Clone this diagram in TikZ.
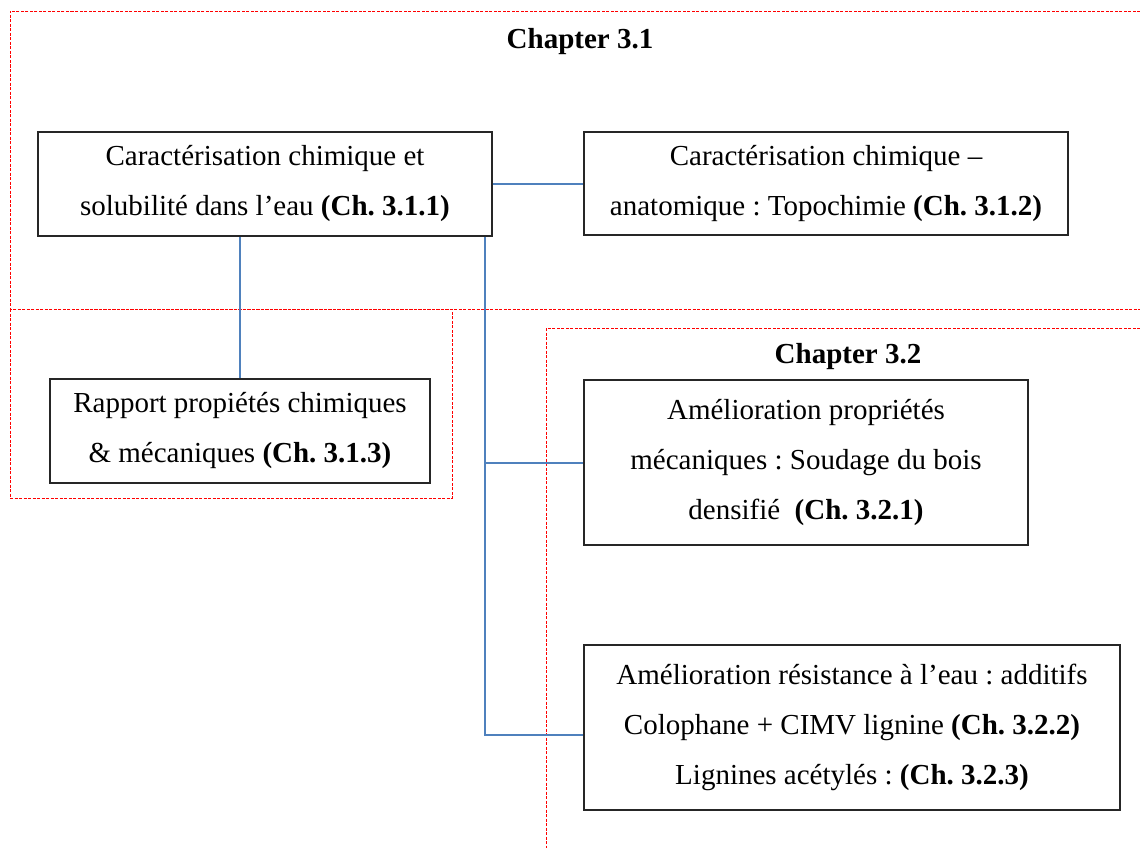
\documentclass[tikz,border=0pt]{standalone}
\usepackage{fontspec}
\setmainfont{Liberation Serif}
\usepackage{tikz}
\frenchspacing

\definecolor{linkblue}{HTML}{4F81BD}
\definecolor{framered}{HTML}{FF0000}

\tikzset{
	box/.style={draw=black!85, line width=1.2pt, align=center, inner sep=0pt, font=\fontsize{29}{50}\selectfont},
	link/.style={draw=linkblue, line width=2pt},
	chapframe/.style={draw=framered, line width=0.9pt, dash pattern=on 3pt off 1.5pt},
	chaptitle/.style={font=\fontsize{29}{34}\selectfont\bfseries, inner sep=0pt},
}

\begin{document}
\begin{tikzpicture}[x=1pt, y=-1pt]
	\useasboundingbox (0,0) rectangle (1140,848);
	\draw[chapframe] (1140,11) -- (10,11) -- (10,309) -- (1140,309);
	\draw[chapframe] (10,309) rectangle (452,498);
	\draw[chapframe] (1140,328) -- (546,328) -- (546,848);
	\node[chaptitle] (t31) at (580,42) {Chapter 3.1};
	\node[chaptitle] (t32) at (848,357) {Chapter 3.2};
	\node[box, minimum width=454pt, minimum height=104pt] (c311) at (265,184) {Caractérisation chimique et\\solubilité dans l’eau \textbf{(Ch.\ 3.1.1)}};
	\node[box, minimum width=484pt, minimum height=103pt] (c312) at (826,183.5) {Caractérisation chimique –\\anatomique : Topochimie \textbf{(Ch.\ 3.1.2)}};
	\node[box, minimum width=380pt, minimum height=104pt] (c313) at (240,431) {Rapport propiétés chimiques\\\& mécaniques \textbf{(Ch.\ 3.1.3)}};
	\node[box, minimum width=444pt, minimum height=165pt] (c321) at (806,462.5) {Amélioration propriétés\\mécaniques : Soudage du bois\\densifié~ \textbf{(Ch.\ 3.2.1)}};
	\node[box, minimum width=536pt, minimum height=165pt] (c322) at (852,727.5) {Amélioration résistance à l’eau : additifs\\Colophane + CIMV lignine \textbf{(Ch.\ 3.2.2)}\\Lignines acétylés : \textbf{(Ch.\ 3.2.3)}};
	\coordinate (fork) at ([xshift=-8pt]c311.south east);
	\coordinate (in322) at ([yshift=-7pt]c322.west);
	\draw[link] (c311.east) -- (c312.west |- c311.east);
	\draw[link] (c313.north) -- (c313.north |- c311.south);
	\draw[link] (fork) |- (in322);
	\draw[link] (fork |- c321.west) -- (c321.west);
\end{tikzpicture}
\end{document}
